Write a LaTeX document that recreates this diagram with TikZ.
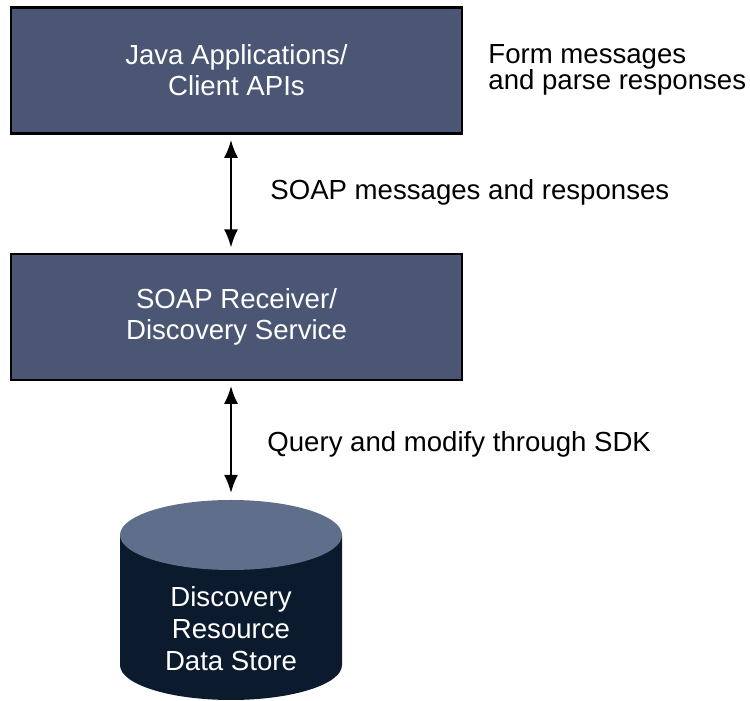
\documentclass[tikz,border=0pt]{standalone}
\usepackage{fontspec}
\setmainfont{Liberation Sans}
\usepackage{tikz}
\usetikzlibrary{arrows.meta,positioning,calc}
\definecolor{layerfill}{RGB}{74,86,116}
\definecolor{storebody}{RGB}{12,26,45}
\definecolor{storetop}{RGB}{95,110,138}

\begin{document}
\begin{tikzpicture}[x=0.5pt, y=0.5pt, >={Latex[length=9pt,width=7pt]},
  layer/.style={draw, line width=1.2pt, fill=layerfill, text=white, minimum width=225.5pt, minimum height=63pt, align=center, font=\fontsize{13.8}{15.5}\selectfont},
  note/.style={inner sep=0pt, align=left, font=\fontsize{13.8}{13}\selectfont},
  link/.style={<->, line width=1pt}]
  \useasboundingbox (0,0) rectangle (750,701);

  \node[layer] (java) at (236.5,630.5) {Java Applications/\\Client APIs};
  \node[layer, below=59pt of java] (srv) {SOAP Receiver/\\Discovery Service};

  \fill[storebody] (120,166) -- (120,36) arc[start angle=180, end angle=360, x radius=111, y radius=35] -- (342,166) -- cycle;
  \fill[storetop] (231,166) ellipse[x radius=111, y radius=35];
  \coordinate (dbtop) at (231,201);
  \node[text=white, align=center, inner sep=0pt, font=\fontsize{13.8}{16}\selectfont] (db) at (231,72) {Discovery\\Resource\\Data Store};

  \node[note, anchor=west] (formnote) at (488,631) {Form messages\\and parse responses};
  \node[note, anchor=base west] (soapnote) at (270,501) {SOAP messages and responses};
  \node[note, anchor=base west] (sdknote) at (267,249) {Query and modify through SDK};

  \draw[link, shorten <=2.6pt, shorten >=2.6pt] (java.south -| dbtop) -- (srv.north -| dbtop);
  \draw[link, shorten <=2.4pt, shorten >=3.5pt] (srv.south -| dbtop) -- (dbtop);
\end{tikzpicture}
\end{document}
